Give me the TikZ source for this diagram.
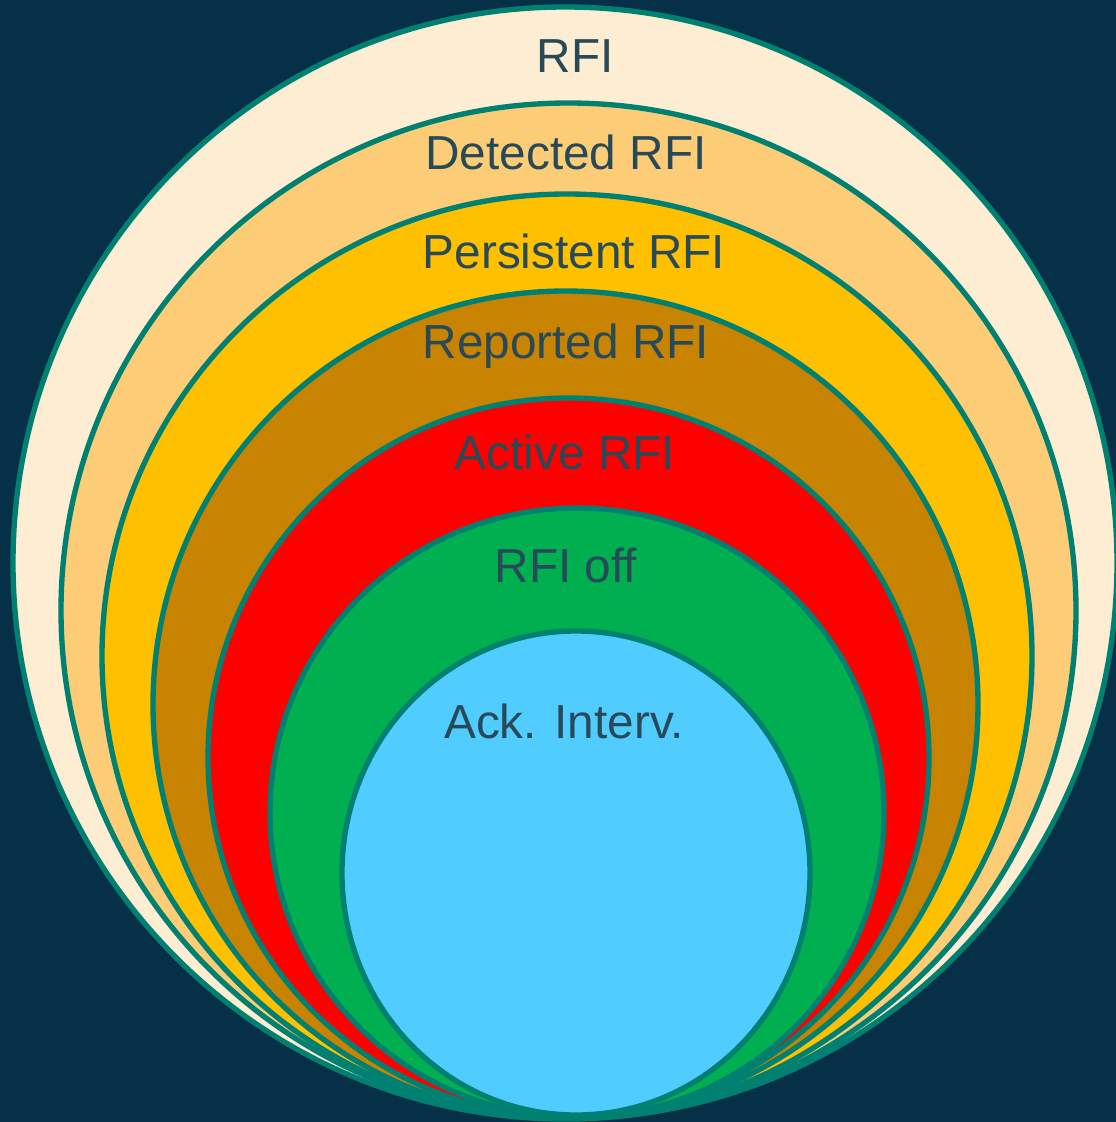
\documentclass[tikz,border=0pt]{standalone}
\usepackage{fontspec}
\setmainfont{Liberation Sans}
\usepackage{tikz}
\definecolor{navy}{RGB}{6,48,72}
\definecolor{rim}{RGB}{0,128,112}
\definecolor{ink}{RGB}{40,74,88}
\definecolor{cRFI}{RGB}{253,237,211}
\definecolor{cDetected}{RGB}{252,204,118}
\definecolor{cPersistent}{RGB}{255,192,0}
\definecolor{cReported}{RGB}{200,131,0}
\definecolor{cActive}{RGB}{255,0,0}
\definecolor{cOff}{RGB}{0,176,80}
\definecolor{cAck}{RGB}{80,204,255}

\begin{document}
\begin{tikzpicture}[x=0.75pt, y=-0.75pt,
		ring/.style = {draw=rim, line width=4pt},
		tag/.style = {text=ink, font=\fontsize{35.8}{43}\selectfont, inner sep=0pt}]
				\useasboundingbox (0,0) rectangle (1116,1122);
				\fill[navy] (0,0) rectangle (1116,1122);
				% nested sets, outermost first
				\draw[ring, fill=cRFI] (565,563) ellipse [x radius=552, y radius=556];
				\draw[ring, fill=cDetected] (568.5,610.5) ellipse [x radius=507.5, y radius=507.5];
				\draw[ring, fill=cPersistent] (567,656) ellipse [x radius=465, y radius=462];
				\draw[ring, fill=cReported] (565.5,704.5) ellipse [x radius=412.5, y radius=413.5];
				\draw[ring, fill=cActive] (568.5,757.5) ellipse [x radius=360.5, y radius=359.5];
				\draw[ring, fill=cOff] (577,812.5) ellipse [x radius=307, y radius=304.5];
				\draw[ring, fill=cAck] (576,873) ellipse [x radius=234, y radius=242];
				% labels
				\node[tag] (rfi) at (575,56) {RFI};
				\node[tag] (detected) at (566,152) {Detected RFI};
				\node[tag] (persistent) at (574,251) {Persistent RFI};
				\node[tag] (reported) at (566,346) {Reported RFI};
				\node[tag] (active) at (565,452) {Active RFI};
				\node[tag] (off) at (566,565) {RFI off};
				\node[tag] (ack) at (564,721) {Ack. Interv.};
\end{tikzpicture}
\end{document}
